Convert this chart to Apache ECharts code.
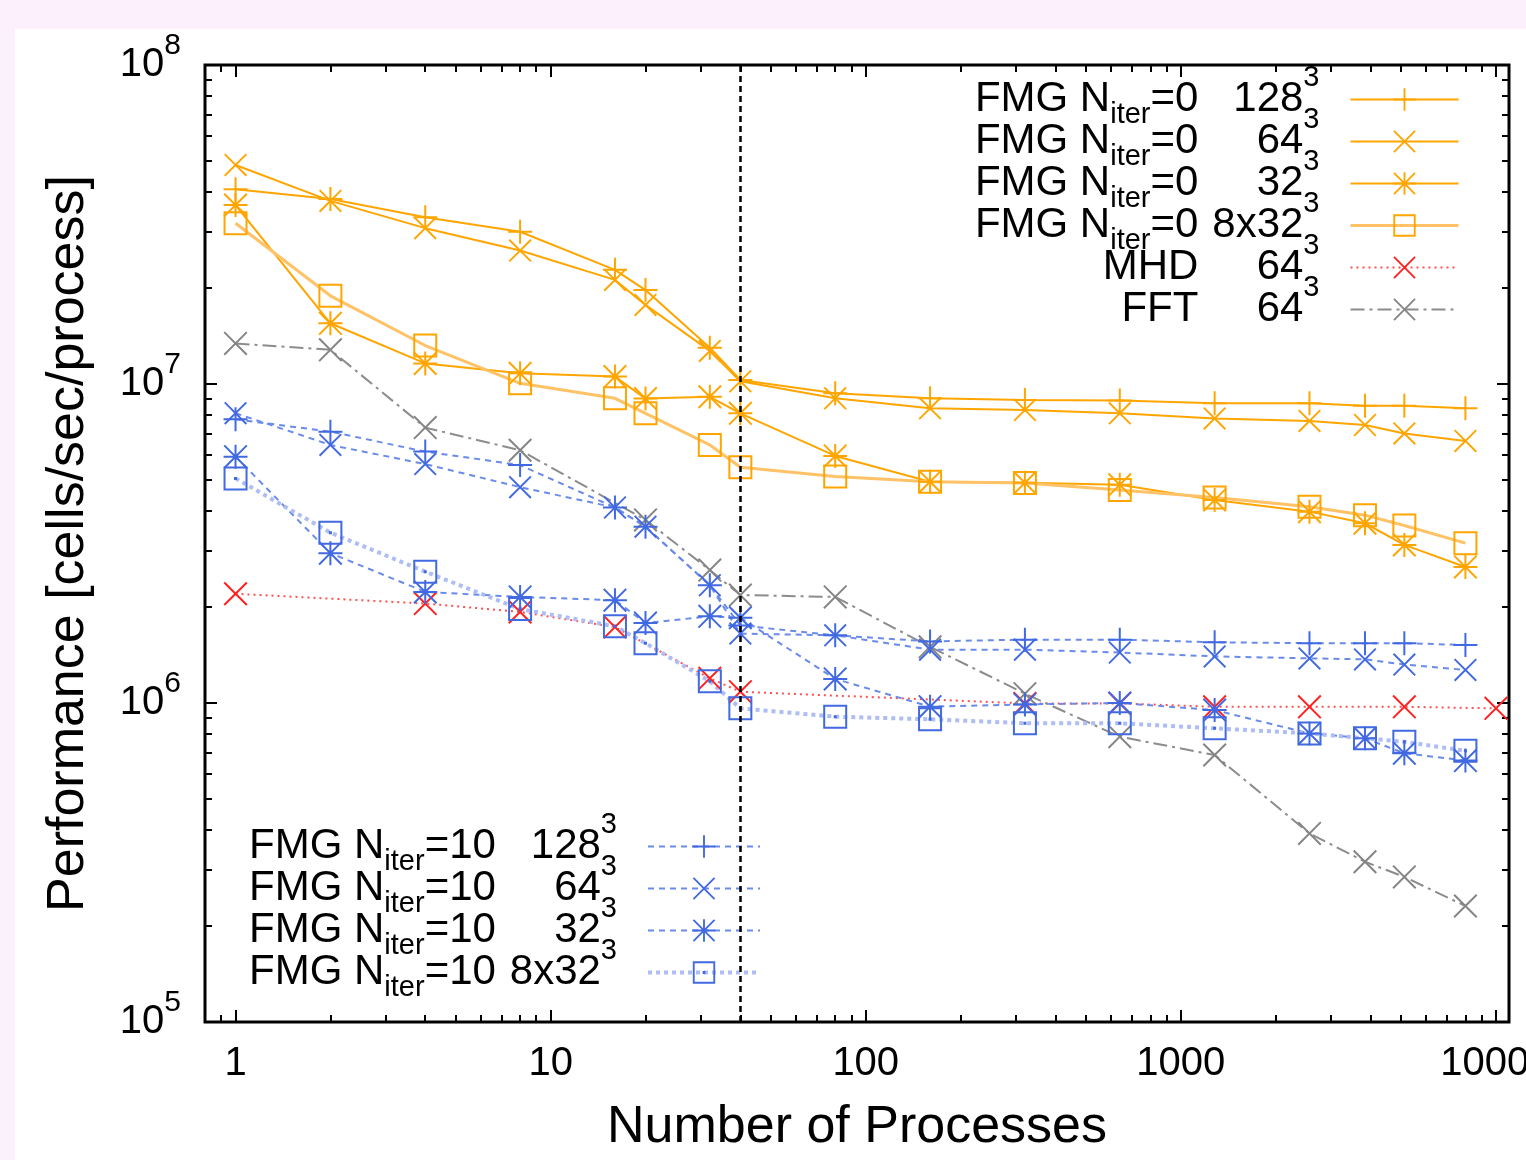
<!DOCTYPE html>
<html><head><meta charset="utf-8">
<script src="https://cdn.jsdelivr.net/npm/echarts@6/dist/echarts.min.js"></script>
<style>
html,body{margin:0;padding:0;background:#fdf0fd;width:1526px;height:1160px;overflow:hidden}
#c{position:absolute;left:15px;top:29px;width:1511px;height:1131px;background:#fff}
</style></head><body><div id="c"></div>
<script>
// ---------------- data ----------------
const procs = [1,2,4,8,16,20,32,40,80,160,320,640,1280,2560,3840,5120,8000];
const fmg0_128  = [4.08e7,3.80e7,3.33e7,3.00e7,2.28e7,1.97e7,1.30e7,1.03e7,9.35e6,9.02e6,8.91e6,8.87e6,8.70e6,8.70e6,8.55e6,8.55e6,8.39e6];
const fmg0_64   = [4.86e7,3.75e7,3.08e7,2.62e7,2.12e7,1.77e7,1.27e7,1.02e7,9.02e6,8.39e6,8.29e6,8.09e6,7.80e6,7.66e6,7.44e6,7.00e6,6.63e6];
const fmg0_32   = [3.64e7,1.55e7,1.16e7,1.08e7,1.055e7,9.00e6,9.12e6,8.09e6,5.95e6,4.94e6,4.90e6,4.83e6,4.33e6,3.98e6,3.66e6,3.13e6,2.67e6];
const fmg0_8x32 = [3.19e7,1.89e7,1.32e7,1.005e7,9.02e6,8.09e6,6.44e6,5.48e6,5.13e6,4.94e6,4.89e6,4.65e6,4.41e6,4.12e6,3.88e6,3.60e6,3.17e6];
const mhdProcs = [1,4,8,16,32,40,320,640,1280,2560,5120,10000];
const mhd64    = [2.20e6,2.05e6,1.93e6,1.73e6,1.195e6,1.085e6,9.97e5,9.97e5,9.73e5,9.73e5,9.73e5,9.62e5];
const fftProcs = [1,2,4,8,20,32,40,80,160,320,640,1280,2560,3840,5120,8000];
const fft64    = [1.34e7,1.28e7,7.30e6,6.20e6,3.75e6,2.61e6,2.18e6,2.15e6,1.50e6,1.07e6,7.84e5,6.87e5,3.90e5,3.18e5,2.85e5,2.31e5];
const fmg10_128  = [7.75e6,7.09e6,6.14e6,5.57e6,4.10e6,3.57e6,2.34e6,1.75e6,1.63e6,1.56e6,1.58e6,1.58e6,1.55e6,1.54e6,1.54e6,1.54e6,1.52e6];
const fmg10_64   = [8.10e6,6.44e6,5.61e6,4.75e6,4.10e6,3.57e6,2.34e6,1.65e6,1.63e6,1.47e6,1.47e6,1.44e6,1.40e6,1.38e6,1.37e6,1.32e6,1.27e6];
const fmg10_32   = [5.92e6,2.95e6,2.23e6,2.15e6,2.10e6,1.78e6,1.87e6,1.85e6,1.19e6,9.74e5,9.90e5,1.00e6,9.50e5,8.03e5,7.75e5,6.96e5,6.60e5];
const fmg10_8x32 = [5.06e6,3.42e6,2.58e6,1.97e6,1.74e6,1.54e6,1.17e6,9.62e5,9.06e5,8.89e5,8.64e5,8.64e5,8.33e5,8.03e5,7.75e5,7.56e5,7.08e5];

const xMajor = [1,10,100,1000,10000];
const xMinor = [0.9,2,3,4,5,6,7,8,9,20,30,40,50,60,70,80,90,200,300,400,500,600,700,800,900,2000,3000,4000,5000,6000,7000,8000,9000];
const yMajor = [1e5,1e6,1e7,1e8];
const yMinor = [2e5,3e5,4e5,5e5,6e5,7e5,8e5,9e5,2e6,3e6,4e6,5e6,6e6,7e6,8e6,9e6,2e7,3e7,4e7,5e7,6e7,7e7,8e7,9e7];
const refLineX = 40;

const xTitle = 'Number of Processes';
const yTitle = 'Performance [cells/sec/process]';

const names = ['FMG0_128','FMG0_64','FMG0_32','FMG0_8x32','MHD_64','FFT_64','FMG10_128','FMG10_64','FMG10_32','FMG10_8x32'];
const legendText = {
  'FMG0_128':  '{a|FMG N}{s|iter}{e|=0}{n|128}{p|3}',
  'FMG0_64':   '{a|FMG N}{s|iter}{e|=0}{n|64}{p|3}',
  'FMG0_32':   '{a|FMG N}{s|iter}{e|=0}{n|32}{p|3}',
  'FMG0_8x32': '{a|FMG N}{s|iter}{e|=0}{n|8x32}{p|3}',
  'MHD_64':    '{a|MHD}{n|64}{p|3}',
  'FFT_64':    '{a|FFT}{n|64}{p|3}',
  'FMG10_128':  '{a|FMG N}{s|iter}{e|=10}{n|128}{p|3}',
  'FMG10_64':   '{a|FMG N}{s|iter}{e|=10}{n|64}{p|3}',
  'FMG10_32':   '{a|FMG N}{s|iter}{e|=10}{n|32}{p|3}',
  'FMG10_8x32': '{a|FMG N}{s|iter}{e|=10}{n|8x32}{p|3}'
};

// ---------------- styling ----------------
const FONT = "'Liberation Sans', Arial, Helvetica, sans-serif";
const ORANGE = '#ffa500', BLUE = '#4169e1', RED = '#ff2020', GRAY = '#858585';
const S_PLUS = 'path://M-1,-12H1V-1H12V1H1V12H-1V1H-12V-1H-1Z';
const S_X = 'path://M-10.6,-12L12,10.6L10.6,12L-12,-10.6ZM10.6,-12L12,-10.6L-10.6,12L-12,10.6Z';
const S_STAR = 'path://M-1,-12H1V-1H12V1H1V12H-1V1H-12V-1H-1ZM-10.6,-12L12,10.6L10.6,12L-12,-10.6ZM10.6,-12L12,-10.6L-10.6,12L-12,10.6Z';
const S_SQ = 'path://M-12,-12H12V12H-12ZM-10,-10V10H10V-10Z';
const S_SQD = 'path://M-12,-12H12V12H-12ZM-10,-10V10H10V-10ZM-1.5,-1.5H1.5V1.5H-1.5Z';

function zip(xs, ys){ return xs.map((x,i)=>[x, ys[i]]); }
function mk(name, xs, ys, color, lineColor, width, dash, symbol, size){
  return {
    name, type:'line', data: zip(xs, ys), color: color,
    symbol, symbolSize: size || 24, showSymbol: true,
    itemStyle: {color: color, borderWidth: 0},
    lineStyle: {color: lineColor, width: width, type: dash},
    emphasis: {disabled: true}, z: 3
  };
}

const series = [
  mk('FMG0_128', procs, fmg0_128, ORANGE, ORANGE, 2, 'solid', S_PLUS),
  mk('FMG0_64', procs, fmg0_64, ORANGE, ORANGE, 2, 'solid', S_X, 23),
  mk('FMG0_32', procs, fmg0_32, ORANGE, ORANGE, 2, 'solid', S_STAR),
  mk('FMG0_8x32', procs, fmg0_8x32, ORANGE, '#ffc266', 3, 'solid', S_SQ),
  mk('MHD_64', mhdProcs, mhd64, RED, '#ff5050', 2, [2,4], S_X),
  mk('FFT_64', fftProcs, fft64, GRAY, '#8c8c8c', 2, [14,5,3,5], S_X),
  mk('FMG10_128', procs, fmg10_128, BLUE, '#6a8bea', 2, [6,5], S_PLUS),
  mk('FMG10_64', procs, fmg10_64, BLUE, '#6a8bea', 2, [6,5], S_X, 23),
  mk('FMG10_32', procs, fmg10_32, BLUE, '#6a8bea', 2, [6,5], S_STAR),
  mk('FMG10_8x32', procs, fmg10_8x32, BLUE, '#aebdf3', 4, [4,4], S_SQD)
];
series[0].markLine = {
  silent: true, symbol: 'none', animation: false,
  label: {show: false},
  lineStyle: {color: '#000', type: [6,4], width: 2.5},
  emphasis: {disabled: true},
  data: [{xAxis: refLineX}]
};

function axisBase(extra){
  return Object.assign({
    type: 'log', logBase: 10,
    axisLine: {show: false}, splitLine: {show: false}, minorTick: {show: false}
  }, extra);
}
const tickStyle = {color: '#000', width: 2};
const xLimits = {min: 0.8, max: 11000};
const yLimits = {min: 1e5, max: 1e8};

const xAxes = [
  axisBase(Object.assign({
    position: 'bottom',
    axisTick: {show: true, inside: true, length: 12, customValues: xMajor, lineStyle: tickStyle},
    axisLabel: {show: true, customValues: xMajor, formatter: v => String(Math.round(v)), fontSize: 40, fontFamily: FONT, color: '#000', margin: 22},
    name: xTitle, nameLocation: 'middle', nameGap: 80,
    nameTextStyle: {fontSize: 52, fontFamily: FONT, color: '#000'}
  }, xLimits)),
  axisBase(Object.assign({position: 'bottom', axisTick: {show: true, inside: true, length: 7, customValues: xMinor, lineStyle: tickStyle}, axisLabel: {show: false}}, xLimits)),
  axisBase(Object.assign({position: 'top', axisTick: {show: true, inside: true, length: 12, customValues: xMajor, lineStyle: tickStyle}, axisLabel: {show: false}}, xLimits)),
  axisBase(Object.assign({position: 'top', axisTick: {show: true, inside: true, length: 7, customValues: xMinor, lineStyle: tickStyle}, axisLabel: {show: false}}, xLimits))
];
const yAxes = [
  axisBase(Object.assign({
    position: 'left',
    axisTick: {show: true, inside: true, length: 12, customValues: yMajor, lineStyle: tickStyle},
    axisLabel: {show: true, customValues: yMajor, margin: 24, color: '#000',
      formatter: v => '{b|10}{s|' + Math.round(Math.log10(v)) + '}',
      rich: {
        b: {fontSize: 40, fontFamily: FONT, color: '#000', lineHeight: 46},
        s: {fontSize: 30, fontFamily: FONT, color: '#000', lineHeight: 46, padding: [0,0,38,0]}
      }},
    name: yTitle, nameLocation: 'middle', nameGap: 110, nameRotate: 90,
    nameTextStyle: {fontSize: 52, fontFamily: FONT, color: '#000'}
  }, yLimits)),
  axisBase(Object.assign({position: 'left', axisTick: {show: true, inside: true, length: 7, customValues: yMinor, lineStyle: tickStyle}, axisLabel: {show: false}}, yLimits)),
  axisBase(Object.assign({position: 'right', axisTick: {show: true, inside: true, length: 12, customValues: yMajor, lineStyle: tickStyle}, axisLabel: {show: false}}, yLimits)),
  axisBase(Object.assign({position: 'right', axisTick: {show: true, inside: true, length: 7, customValues: yMinor, lineStyle: tickStyle}, axisLabel: {show: false}}, yLimits))
];

const legendRich = {
  a: {fontSize: 42, fontFamily: FONT, color: '#000', lineHeight: 42},
  s: {fontSize: 29, fontFamily: FONT, color: '#000', lineHeight: 42, padding: [30,0,0,0]},
  e: {fontSize: 42, fontFamily: FONT, color: '#000', lineHeight: 42},
  n: {fontSize: 42, fontFamily: FONT, color: '#000', lineHeight: 42, width: 105},
  p: {fontSize: 29, fontFamily: FONT, color: '#000', lineHeight: 42, padding: [0,26,44,0]}
};
function legendCfg(data, right, top, itemWidth){
  return {
    orient: 'vertical', align: 'right', right, top, padding: 0, itemGap: -31,
    itemWidth, itemHeight: 28, selectedMode: false, data,
    formatter: n => legendText[n],
    textStyle: {fontSize: 42, fontFamily: FONT, color: '#000', lineHeight: 42, rich: legendRich},
    itemStyle: {borderWidth: 0},
    lineStyle: {width: 'inherit'}
  };
}

const chart = echarts.init(document.getElementById('c'), null, {renderer: 'canvas'});
chart.setOption({
  animation: false,
  backgroundColor: '#ffffff',
  grid: {left: 190, top: 36, right: 17, bottom: 138, containLabel: false, outerBoundsMode: 'none',
         show: true, borderColor: '#000', borderWidth: 3, backgroundColor: 'transparent'},
  xAxis: xAxes,
  yAxis: yAxes,
  legend: [
    legendCfg(names.slice(0,6), 66, 34, 108),
    legendCfg(names.slice(6), 764, 781, 112)
  ],
  series
});
</script>
</body></html>
